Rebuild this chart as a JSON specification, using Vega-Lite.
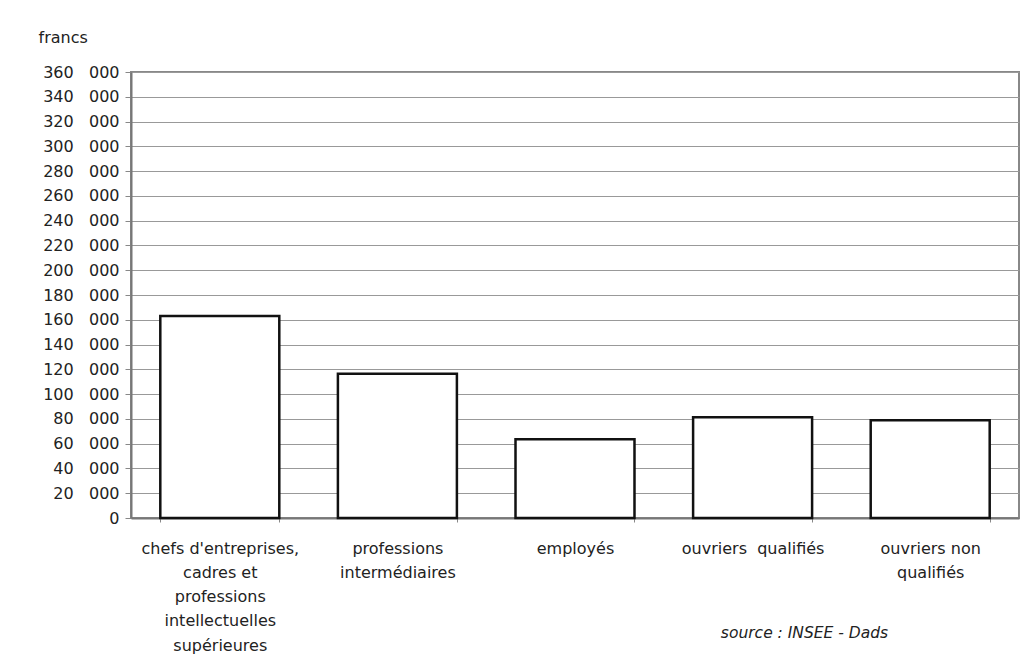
{
  "$schema": "https://vega.github.io/schema/vega-lite/v6.json",
  "autosize": "none",
  "width": 888,
  "height": 446,
  "padding": {"left": 131, "top": 72, "right": 7, "bottom": 141},
  "background": "white",
  "data": {
    "values": [
      {"categorie": "chefs d'entreprises,\ncadres et\nprofessions\nintellectuelles\nsupérieures", "ordre": 1, "salaire": 163000},
      {"categorie": "professions\nintermédiaires", "ordre": 2, "salaire": 116500},
      {"categorie": "employés", "ordre": 3, "salaire": 63500},
      {"categorie": "ouvriers  qualifiés", "ordre": 4, "salaire": 81300},
      {"categorie": "ouvriers non\nqualifiés", "ordre": 5, "salaire": 78900}
    ]
  },
  "mark": {"type": "bar", "fill": "white", "stroke": "#111", "strokeWidth": 2.5},
  "encoding": {
    "x": {
      "field": "categorie",
      "type": "nominal",
      "sort": {"field": "ordre"},
      "scale": {"paddingInner": 0.33, "paddingOuter": 0.165},
      "axis": {
        "title": "source : INSEE - Dads",
        "titleX": 673,
        "titleY": 114,
        "titleAlign": "center",
        "titleBaseline": "middle",
        "titleFontStyle": "italic",
        "titleFontWeight": "normal",
        "titleFontSize": 15.5,
        "titleFont": "DejaVu Sans",
        "titleColor": "#222",
        "labelAngle": 0,
        "labelExpr": "split(replace(datum.label, '  ', '\u00a0\u00a0'), '\\n')",
        "labelFont": "DejaVu Sans",
        "labelFontSize": 16,
        "labelColor": "#222",
        "labelLineHeight": 24.3,
        "labelPadding": 18,
        "labelBaseline": "top",
        "tickBand": "extent",
        "tickSize": 4,
        "tickColor": "#888",
        "domainColor": "#777",
        "domainWidth": 2
      }
    },
    "y": {
      "field": "salaire",
      "type": "quantitative",
      "scale": {"domain": [0, 360000], "nice": false},
      "axis": {
        "title": "francs",
        "titleAngle": 0,
        "titleX": -93,
        "titleY": -35,
        "titleAlign": "left",
        "titleBaseline": "middle",
        "titleFont": "DejaVu Sans",
        "titleFontSize": 16,
        "titleFontWeight": "normal",
        "titleColor": "#222",
        "values": [0, 20000, 40000, 60000, 80000, 100000, 120000, 140000, 160000, 180000, 200000, 220000, 240000, 260000, 280000, 300000, 320000, 340000, 360000],
        "labelExpr": "datum.value == 0 ? '0' : replace(format(datum.value, ','), ',', '\u00a0\u00a0\u00a0')",
        "labelFont": "DejaVu Sans",
        "labelFontSize": 16,
        "labelColor": "#222",
        "labelPadding": 6,
        "tickSize": 6,
        "tickColor": "#888",
        "domainColor": "#777",
        "domainWidth": 2,
        "grid": true,
        "gridColor": "#999",
        "gridWidth": 1
      }
    }
  },
  "config": {
    "view": {"stroke": "#888", "strokeWidth": 2}
  }
}
